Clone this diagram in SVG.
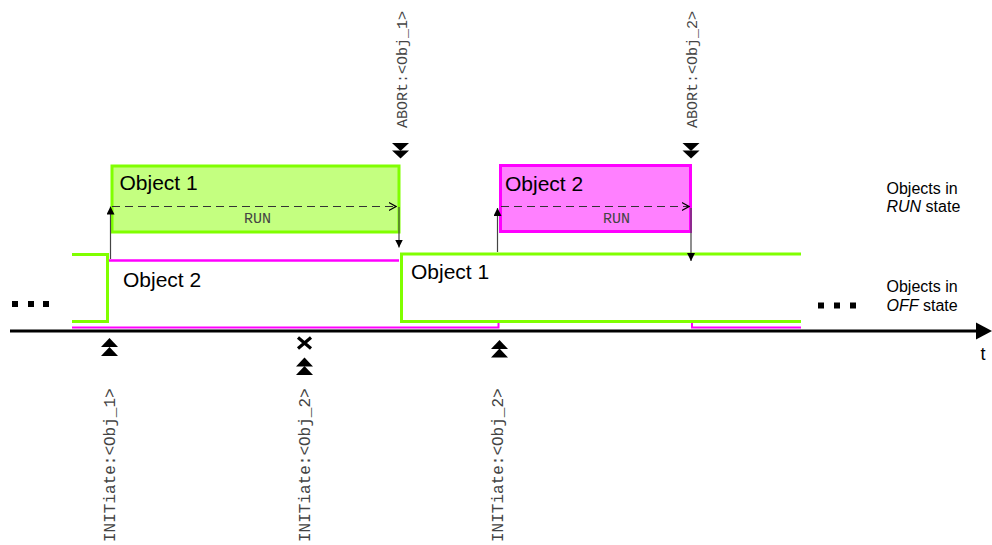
<svg xmlns="http://www.w3.org/2000/svg" width="992" height="545" viewBox="0 0 992 545">
<style>
.lbl{font-family:"Liberation Sans",Arial,sans-serif;fill:#000}
.big{font-size:21px}
.side{font-size:16px}
.mono{font-family:"Liberation Mono","Courier New",monospace;fill:#444}
.cmd{font-size:16px}
.abt{font-size:15px}
.run{font-size:15px;text-anchor:middle}
.g{stroke:#80ff00;stroke-width:3;fill:none}
.m{stroke:#ff00ff;fill:none}
.conn{stroke:#444;stroke-width:1.2;fill:none}
.dash{stroke:#333;stroke-width:1.2;fill:none;stroke-dasharray:8 5}
</style>
<defs>
<marker id="ah" viewBox="0 0 10 10" refX="10" refY="5" markerWidth="8" markerHeight="8" markerUnits="userSpaceOnUse" orient="auto"><path d="M0,0 L10,5 L0,10 z" fill="#000"/></marker>
<marker id="oh" viewBox="0 0 10 10" refX="9" refY="5" markerWidth="8" markerHeight="9" markerUnits="userSpaceOnUse" orient="auto"><path d="M0,0 L9,5 L0,10" fill="none" stroke="#000" stroke-width="1.5"/></marker>
<path id="dn" d="M-8.5,0 H8.5 L0,8 z"/>
<path id="up" d="M-8.5,0 H8.5 L0,-9 z"/>
</defs>

<g id="obj2-off">
<path class="m" stroke-width="2.5" d="M109,260.5 H399"/>
<path class="m" stroke-width="2" d="M72,327.5 H498.5 V321"/>
<path class="m" stroke-width="2" d="M692,321 V327.5 H801"/>
<text class="lbl big" x="123" y="287">Object 2</text>
</g>

<g id="obj1-off">
<path class="g" d="M72,254.5 H107.5 V321.5 H72"/>
<path class="g" d="M801,254 H401.5 V321.5 H801"/>
<text class="lbl big" x="411" y="278.5">Object 1</text>
</g>

<g id="obj1-run">
<rect x="112" y="166" width="287" height="66" fill="#c4ff80" stroke="#80ff00" stroke-width="3"/>
<text class="lbl big" x="119.5" y="190">Object 1</text>
<text class="mono run" x="257.5" y="222.5">RUN</text>
</g>

<g id="obj2-run">
<rect x="500.5" y="165.5" width="190" height="66" fill="#ff80ff" stroke="#ff00ff" stroke-width="3"/>
<text class="lbl big" x="505" y="191">Object 2</text>
<text class="mono run" x="616.5" y="222.5">RUN</text>
</g>

<g id="axis">
<line x1="10" y1="331" x2="978" y2="331" stroke="#000" stroke-width="3"/>
<path d="M976,322.5 L992,331 L976,339.5 z" fill="#000"/>
<text class="lbl" font-size="18" x="980.5" y="359.5">t</text>
</g>

<g id="ellipsis-left">
<rect x="12" y="301" width="6" height="6"/>
<rect x="28" y="301" width="6" height="6"/>
<rect x="43" y="301" width="6" height="6"/>
</g>
<g id="ellipsis-right">
<rect x="818" y="302.5" width="6" height="6"/>
<rect x="834" y="302.5" width="6" height="6"/>
<rect x="850" y="302.5" width="6" height="6"/>
</g>

<g id="legend-run">
<text class="lbl side" x="886.5" y="193.5">Objects in</text>
<text class="lbl side" x="886.5" y="212"><tspan font-style="italic">RUN</tspan> state</text>
</g>
<g id="legend-off">
<text class="lbl side" x="886.5" y="292">Objects in</text>
<text class="lbl side" x="886.5" y="310.5"><tspan font-style="italic">OFF</tspan> state</text>
</g>

<g id="init-obj1">
<use href="#up" x="109.5" y="347"/>
<use href="#up" x="109.5" y="356"/>
<text class="mono cmd" transform="translate(115,542) rotate(-90)">INITiate:&lt;Obj_1&gt;</text>
</g>
<g id="init-obj2-rejected">
<path d="M298,337.5 L311,348.5 M311,337.5 L298,348.5" stroke="#000" stroke-width="3.2"/>
<use href="#up" x="304.5" y="366.5"/>
<use href="#up" x="304.5" y="375"/>
<text class="mono cmd" transform="translate(310,542) rotate(-90)">INITiate:&lt;Obj_2&gt;</text>
</g>
<g id="init-obj2">
<use href="#up" x="499.5" y="349"/>
<use href="#up" x="499.5" y="357.5"/>
<text class="mono cmd" transform="translate(503,542) rotate(-90)">INITiate:&lt;Obj_2&gt;</text>
</g>
<g id="abort-obj1">
<use href="#dn" x="400.5" y="143"/>
<use href="#dn" x="400.5" y="150.5"/>
<text class="mono abt" transform="translate(406.5,128) rotate(-90)">ABORt:&lt;Obj_1&gt;</text>
</g>
<g id="abort-obj2">
<use href="#dn" x="691" y="143"/>
<use href="#dn" x="691" y="150.5"/>
<text class="mono abt" transform="translate(697,128) rotate(-90)">ABORt:&lt;Obj_2&gt;</text>
</g>

<g id="connectors">
<line class="conn" x1="110.5" y1="259" x2="110.5" y2="206.5" marker-end="url(#ah)"/>
<line class="dash" x1="112" y1="206.5" x2="396" y2="206.5" marker-end="url(#oh)"/>
<line class="conn" x1="399" y1="207" x2="399" y2="247.5" marker-end="url(#ah)"/>
<line class="conn" x1="497.5" y1="252" x2="497.5" y2="208" marker-end="url(#ah)"/>
<line class="dash" x1="501" y1="206.5" x2="689" y2="206.5" marker-end="url(#oh)"/>
<line class="conn" x1="691" y1="208" x2="691" y2="261" marker-end="url(#ah)"/>
</g>
</svg>
